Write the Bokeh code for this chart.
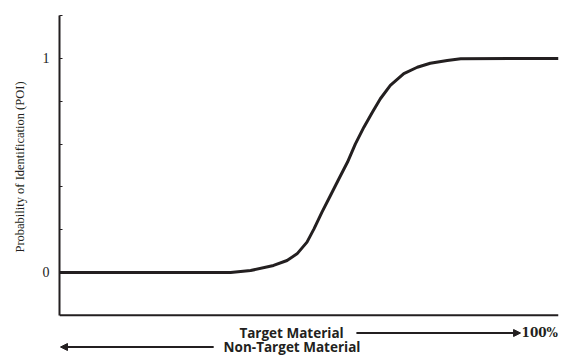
from bokeh.plotting import figure
from bokeh.layouts import column
from bokeh.models import Range1d, FixedTicker, Label, Arrow, NormalHead
from bokeh.embed import file_html
from bokeh.resources import INLINE

# Data: share of target material (%) vs probability of identification
target_pct = [0, 34.3, 38.3, 42.9, 45.6, 47.6, 49.6, 51.0, 52.6, 54.3, 56.0, 57.7,
              59.3, 61.0, 62.7, 64.3, 66.3, 69.0, 71.7, 74.3, 77.7, 80.4, 100]
poi = [0, 0, 0.009, 0.033, 0.056, 0.087, 0.142, 0.204, 0.282, 0.360, 0.438, 0.515,
       0.601, 0.679, 0.749, 0.812, 0.874, 0.929, 0.959, 0.978, 0.991, 0.999, 1.0]
y_ticks = [0, 0.2, 0.4, 0.6, 0.8, 1, 1.2]
y_tick_labels = {0: "0", 0.2: "", 0.4: "", 0.6: "", 0.8: "", 1: "1", 1.2: ""}
x_min, x_max = 0, 100
y_min, y_max = -0.2, 1.2

ink = "#231f20"

X_RANGE_MAIN = Range1d(x_min, x_max)

p = figure(width=566, height=318, output_backend="svg", toolbar_location=None,
           x_range=X_RANGE_MAIN, y_range=Range1d(-0.215, y_max + 0.0009),
           min_border_left=59, min_border_right=8, min_border_top=15, min_border_bottom=0)
p.outline_line_color = None
p.grid.visible = False
p.xaxis.visible = False

p.line(target_pct, poi, line_width=3, line_color=ink)
# x-axis baseline
p.line([x_min, x_max], [y_min, y_min], line_width=2, line_color=ink)

p.yaxis.bounds = (y_min, y_max)
p.yaxis.ticker = FixedTicker(ticks=y_ticks)
p.yaxis.major_label_overrides = y_tick_labels
p.yaxis.minor_tick_line_color = None
p.yaxis.major_tick_in = 3
p.yaxis.major_tick_out = 0
p.yaxis.axis_line_width = 2
p.yaxis.axis_line_color = ink
p.yaxis.major_tick_line_color = ink
p.yaxis.major_label_text_font = "Liberation Serif"
p.yaxis.major_label_text_font_size = "14px"
p.yaxis.major_label_text_color = "#222222"
p.yaxis.major_label_standoff = 10
p.yaxis.axis_label = "Probability of Identification (POI)"
p.yaxis.axis_label_text_font = "Liberation Serif"
p.yaxis.axis_label_text_font_style = "normal"
p.yaxis.axis_label_text_font_size = "12.5px"
p.yaxis.axis_label_text_color = ink
p.yaxis.axis_label_standoff = 13

# Strip below the chart for the direction labels (shares the horizontal scale)
q = figure(width=566, height=38, output_backend="svg", toolbar_location=None,
           x_range=X_RANGE_MAIN, y_range=Range1d(-38, 0),
           min_border_left=59, min_border_right=8, min_border_top=0, min_border_bottom=0)
q.outline_line_color = None
q.grid.visible = False
q.axis.visible = False

row1, row2 = -14.5, -28.5
q.add_layout(Label(x=46.5, y=row1, text="Target Material", text_align="center",
                   text_baseline="middle", text_font="Open Sans", text_font_style="bold",
                   text_font_size="13.5px", text_color=ink))
q.add_layout(Label(x=46.6, y=row2, text="Non-Target Material", text_align="center",
                   text_baseline="middle", text_font="Open Sans", text_font_style="bold",
                   text_font_size="13.5px", text_color=ink))
q.add_layout(Label(x=92.6, y=row1, text="100%", text_align="left",
                   text_baseline="middle", text_font="DejaVu Serif", text_font_style="bold",
                   text_font_size="12px", text_color=ink))
q.add_layout(Arrow(x_start=59.5, y_start=row1, x_end=92.4, y_end=row1,
                   line_width=2, line_color=ink,
                   end=NormalHead(size=7, fill_color=ink, line_color=ink)))
q.add_layout(Arrow(x_start=30.9, y_start=row2, x_end=0.2, y_end=row2,
                   line_width=2, line_color=ink,
                   end=NormalHead(size=7, fill_color=ink, line_color=ink)))

layout = column(p, q, spacing=0)
open("out.html", "w").write(file_html(layout, INLINE))
